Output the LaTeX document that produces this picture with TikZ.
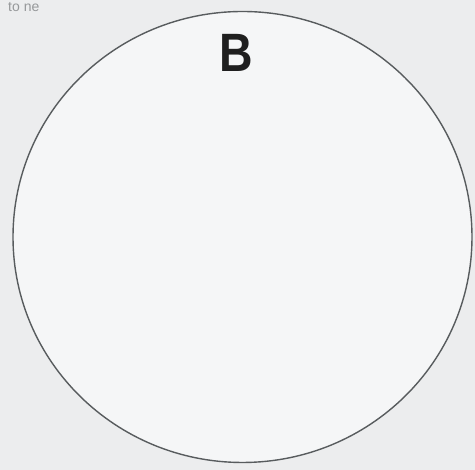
\documentclass[tikz,border=0pt]{standalone}
\usepackage{fontspec}
\setmainfont{Liberation Sans}
\definecolor{bgpaper}{RGB}{236,237,238}
\definecolor{inpaper}{RGB}{245,246,247}
\definecolor{ringline}{RGB}{88,92,94}
\definecolor{faint}{RGB}{150,152,154}
\tikzset{
  ring/.style={draw=ringline, line width=1.4pt, fill=inpaper},
  setlabel/.style={font=\bfseries\fontsize{54}{58}\selectfont, text=black!88, inner sep=0pt, xscale=0.86}
}
\begin{document}
\begin{tikzpicture}[x=1pt,y=1pt]
\useasboundingbox (0,0) rectangle (475,470);
\fill[bgpaper] (0,0) rectangle (475,470);
\node[anchor=base west, font=\fontsize{14}{16}\selectfont, text=faint, inner sep=0pt] (cut) at (8,458) {to ne};
\draw[ring] (242.5,233) ellipse [x radius=229.5, y radius=225.5];
\node[setlabel] (B) at (236.5,417) {B};
\end{tikzpicture}
\end{document}
